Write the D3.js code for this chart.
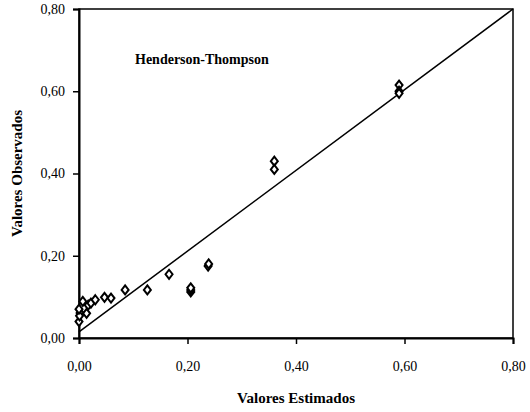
<!DOCTYPE html>
<html><head><meta charset="utf-8">
<script src="https://cdn.jsdelivr.net/npm/d3@7"></script>
<style>body{margin:0;background:#fff}svg{display:block}text{font-family:"Liberation Serif","Times New Roman",serif}</style>
</head><body><svg id="c" width="530" height="412"></svg>
<script>
const estimados = [0.002,0.000,0.001,0.000,0.007,0.014,0.017,0.022,0.030,0.047,0.059,0.085,0.126,0.166,0.206,0.206,0.206,0.238,0.239,0.360,0.360,0.590,0.590,0.590];
const observados = [0.061,0.040,0.054,0.070,0.089,0.060,0.080,0.085,0.093,0.099,0.097,0.117,0.117,0.155,0.112,0.117,0.122,0.175,0.180,0.430,0.410,0.615,0.600,0.595];
const tickValues = [0,0.2,0.4,0.6,0.8];
const fitLine = [[0,0.015],[0.8,0.8]];
const title = "Henderson-Thompson";
const xTitle = "Valores Estimados";
const yTitle = "Valores Observados";

const svg = d3.select("#c");
const m = {l:79, r:17, t:9, b:74};
const W = 530, H = 412;
const x = d3.scaleLinear().domain([0,0.8]).range([m.l, W-m.r]);
const y = d3.scaleLinear().domain([0,0.8]).range([H-m.b, m.t]);
const fmt = d => d3.format(".2f")(d).replace(".", ",");

// frame
svg.append("rect").attr("x",x(0)).attr("y",y(0.8)).attr("width",x(0.8)-x(0)).attr("height",y(0)-y(0.8))
  .attr("fill","none").attr("stroke","#000").attr("stroke-width",1.5);

const xa = svg.append("g").attr("transform",`translate(0,${y(0)})`)
  .call(d3.axisBottom(x).tickValues(tickValues).tickFormat(fmt).tickSize(6).tickPadding(17));
const ya = svg.append("g").attr("transform",`translate(${x(0)},0)`)
  .call(d3.axisLeft(y).tickValues(tickValues).tickFormat(fmt).tickSize(6).tickPadding(8));
[xa,ya].forEach(a=>{
  a.select(".domain").attr("stroke-width",2);
  a.selectAll(".tick line").attr("stroke-width",1.5);
  a.selectAll("text").attr("font-size",14).attr("fill","#000").style("font-family",'"Liberation Serif",serif');
});

// line
svg.append("path").datum(fitLine)
  .attr("d", d3.line().x(d=>x(d[0])).y(d=>y(d[1])))
  .attr("fill","none").attr("stroke","#000").attr("stroke-width",1.5);

// points
const pts = estimados.map((v,i)=>[v, observados[i]]);
svg.append("g").selectAll("path").data(pts).join("path")
  .attr("d","M0,-4.5L3.5,0L0,4.5L-3.5,0Z")
  .attr("transform",d=>`translate(${x(d[0])},${y(d[1])})`)
  .attr("fill","#fff").attr("stroke","#000").attr("stroke-width",2);

svg.append("text").attr("x",135).attr("y",64).attr("font-size",14).attr("font-weight","bold").text(title);
svg.append("text").attr("x",(x(0)+x(0.8))/2).attr("y",403).attr("text-anchor","middle")
  .attr("font-size",15).attr("font-weight","bold").text(xTitle);
svg.append("text").attr("transform",`translate(22,${(y(0)+y(0.8))/2}) rotate(-90)`).attr("text-anchor","middle")
  .attr("font-size",15).attr("font-weight","bold").text(yTitle);
</script></body></html>
